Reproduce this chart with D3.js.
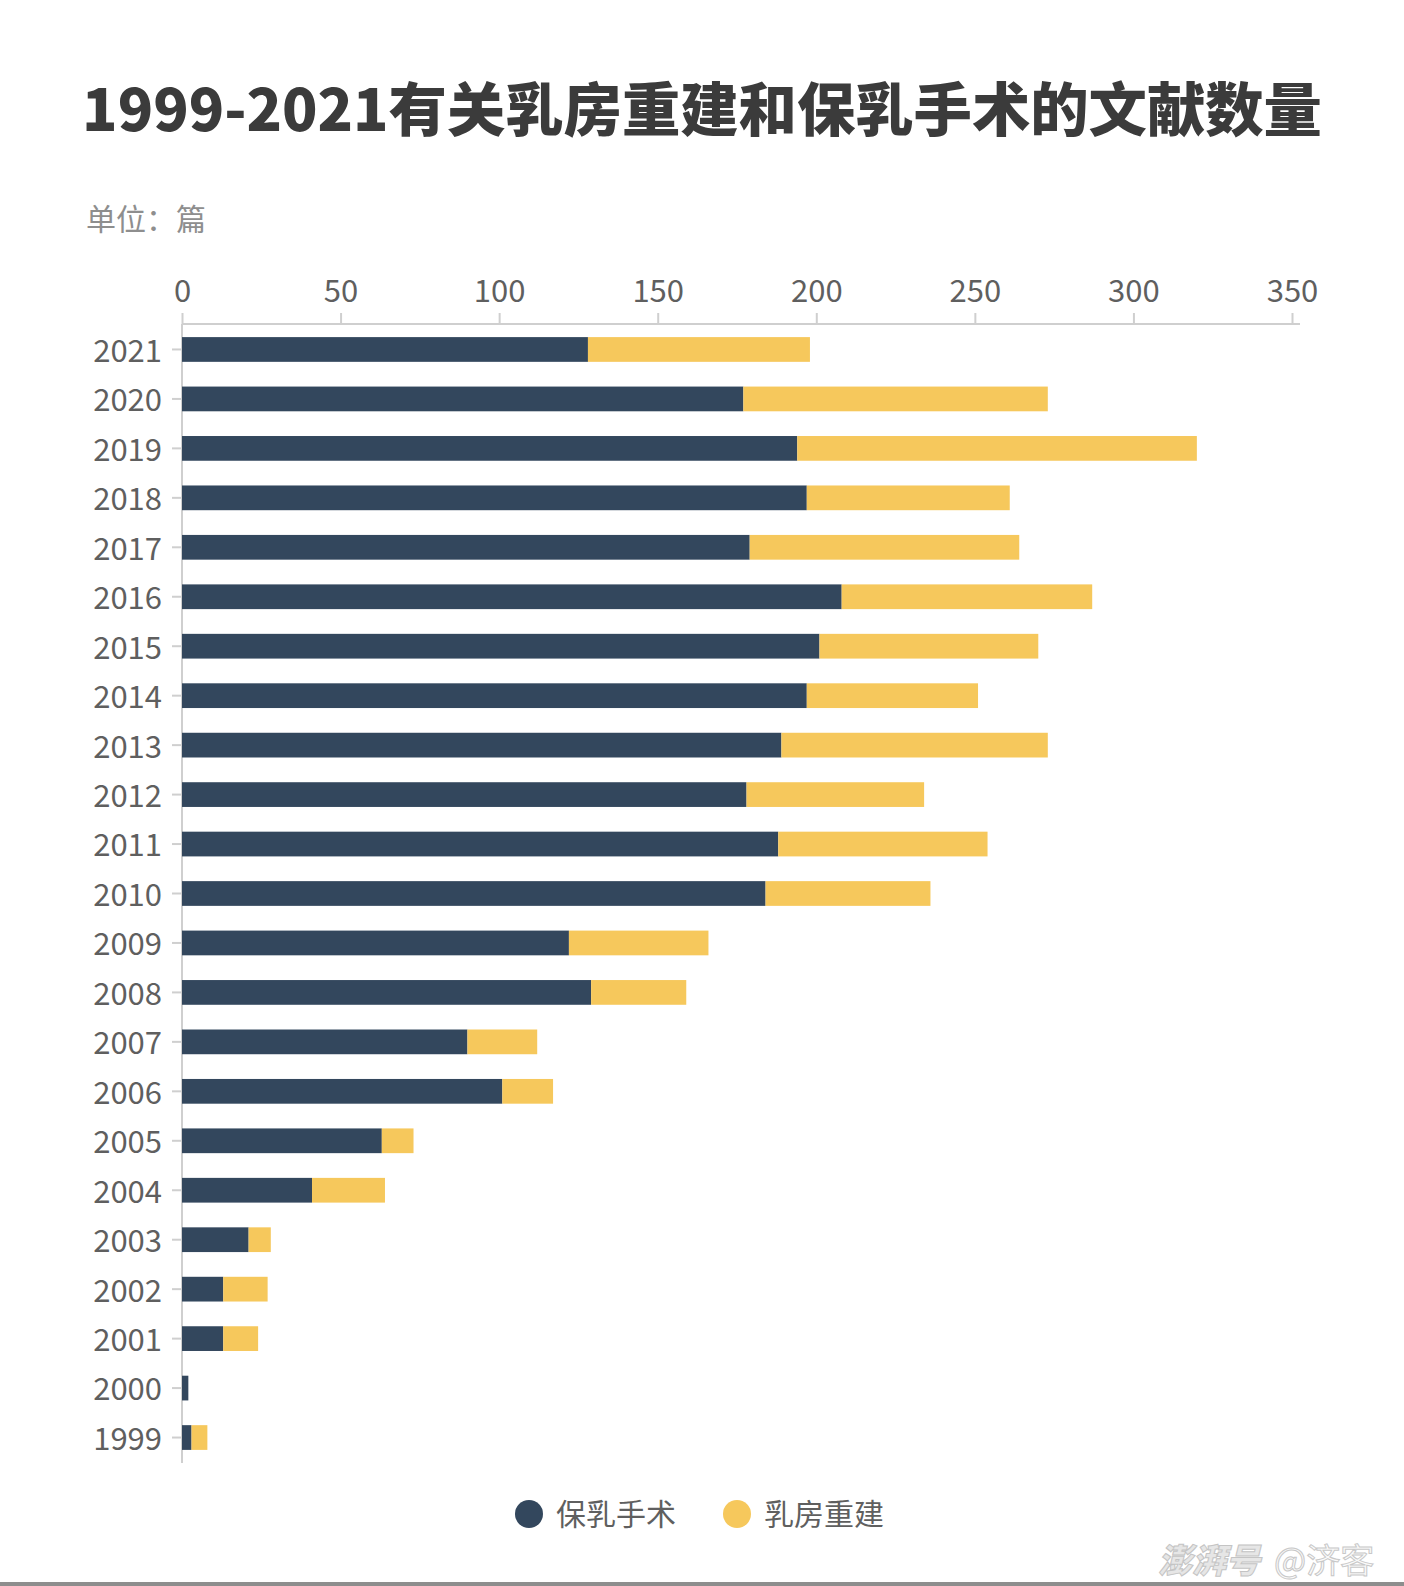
<!DOCTYPE html>
<html>
<head>
<meta charset="utf-8">
<script src="https://cdn.jsdelivr.net/npm/d3@7"></script>
<style>
  body { margin: 0; background: #fff; }
  text { font-family: "Noto Sans CJK SC", "Noto Sans", sans-serif; }
</style>
</head>
<body>
<div id="chart"></div>
<script>
// Content
const years = ["2021", "2020", "2019", "2018", "2017", "2016", "2015", "2014", "2013", "2012", "2011",
  "2010", "2009", "2008", "2007", "2006", "2005", "2004", "2003", "2002", "2001", "2000", "1999"];
const conserving = [128, 177, 194, 197, 179, 208, 201, 197, 189, 178, 188,
  184, 122, 129, 90, 101, 63, 41, 21, 13, 13, 2, 3];   // 保乳手术
const reconstruction = [70, 96, 126, 64, 85, 79, 69, 54, 84, 56, 66,
  52, 44, 30, 22, 16, 10, 23, 7, 14, 11, 0, 5];        // 乳房重建
const seriesNames = ["保乳手术", "乳房重建"];
const xTicks = [0, 50, 100, 150, 200, 250, 300, 350];
const title = "1999-2021有关乳房重建和保乳手术的文献数量";
const unitLabel = "单位：篇";

// Sizing
const svgWidth = 1404, svgHeight = 1586;
const plotLeft = 182, plotRight = 1292, plotTop = 324, plotBottom = 1463;

// Colouring
const colors = ["#33475d", "#f6c85c"];
const axisColor = "#cfcfcf";
const labelColor = "#5f5f5f";

var svg = d3.select("#chart").append("svg")
  .attr("width", svgWidth)
  .attr("height", svgHeight);

/** Title */
var titleText = svg.append("text")
  .attr("x", svgWidth / 2)
  .attr("y", 131)
  .attr("text-anchor", "middle")
  .attr("fill", "#3b3b3b")
  .style("font-size", "64px")
  .style("font-weight", 900)
  .text(title);
// fit to the width of the original title
var w = titleText.node().getComputedTextLength();
titleText.style("font-size", (64 * 1240 / w) + "px");

svg.append("text")
  .attr("x", 86)
  .attr("y", 230)
  .attr("fill", "#8e8e8e")
  .style("font-size", "30px")
  .text(unitLabel);

/** Scales */
var x = d3.scaleLinear().domain([0, 350]).range([plotLeft, plotRight]);
var y = d3.scaleBand().domain(years).range([plotTop, plotBottom])
  .paddingInner(0.5).paddingOuter(0.265);

/** X-Axis (top) */
var xAxis = svg.append("g").classed("axis", true)
  .attr("transform", "translate(0," + plotTop + ")")
  .call(d3.axisTop(x).tickValues(xTicks).tickSize(11).tickPadding(11));
xAxis.select(".domain").remove();
xAxis.append("line")
  .attr("x1", plotLeft).attr("x2", plotRight + 8)
  .attr("stroke", axisColor).attr("stroke-width", 2);

/** Y-Axis */
var yAxis = svg.append("g").classed("axis", true)
  .attr("transform", "translate(" + plotLeft + ",0)")
  .call(d3.axisLeft(y).tickSize(10).tickPadding(10));
yAxis.select(".domain").remove();
yAxis.append("line")
  .attr("y1", plotTop).attr("y2", plotBottom)
  .attr("stroke", axisColor).attr("stroke-width", 2);
yAxis.selectAll("text").attr("dy", "0.4em");

svg.selectAll(".axis").selectAll(".tick line").attr("stroke", axisColor).attr("stroke-width", 2);
svg.selectAll(".axis").selectAll("text")
  .attr("fill", labelColor)
  .style("font-size", "31px")
  .style("font-family", "\"Noto Sans CJK SC\", sans-serif");

/** Stacked bars */
var rows = years.map((yr, i) => ({ year: yr, a: conserving[i], b: reconstruction[i] }));
var stack = d3.stack().keys(["a", "b"])(rows);

svg.append("g").selectAll("g")
  .data(stack)
  .enter().append("g")
  .attr("fill", (d, i) => colors[i])
  .selectAll("rect")
  .data(d => d)
  .enter().append("rect")
  .attr("x", d => x(d[0]))
  .attr("y", d => y(d.data.year))
  .attr("width", d => x(d[1]) - x(d[0]))
  .attr("height", y.bandwidth());

/** Legend */
var legendX = [529, 737];
var legend = svg.append("g").selectAll("g")
  .data(seriesNames)
  .enter().append("g")
  .attr("transform", (d, i) => "translate(" + legendX[i] + ",1514)");
legend.append("circle").attr("r", 14).attr("fill", (d, i) => colors[i]);
legend.append("text")
  .attr("x", 27)
  .attr("dy", "0.35em")
  .attr("fill", labelColor)
  .style("font-size", "30px")
  .text(d => d);

/** Watermark */
svg.append("text")
  .attr("x", 1158).attr("y", 1573)
  .attr("fill", "#e6e6e6").attr("stroke", "#c4c4c4").attr("stroke-width", 1)
  .style("font-size", "34px").style("font-weight", 900).style("font-style", "italic")
  .text("澎湃号");
svg.append("text")
  .attr("x", 1274).attr("y", 1573)
  .attr("fill", "#fafafa").attr("stroke", "#c8c8c8").attr("stroke-width", 1)
  .style("font-size", "34px")
  .text("@济客");

// bottom strip from the screenshot edge
svg.append("rect")
  .attr("x", 0).attr("y", 1582).attr("width", svgWidth).attr("height", 4)
  .attr("fill", "#8d8d8d");
</script>
</body>
</html>
